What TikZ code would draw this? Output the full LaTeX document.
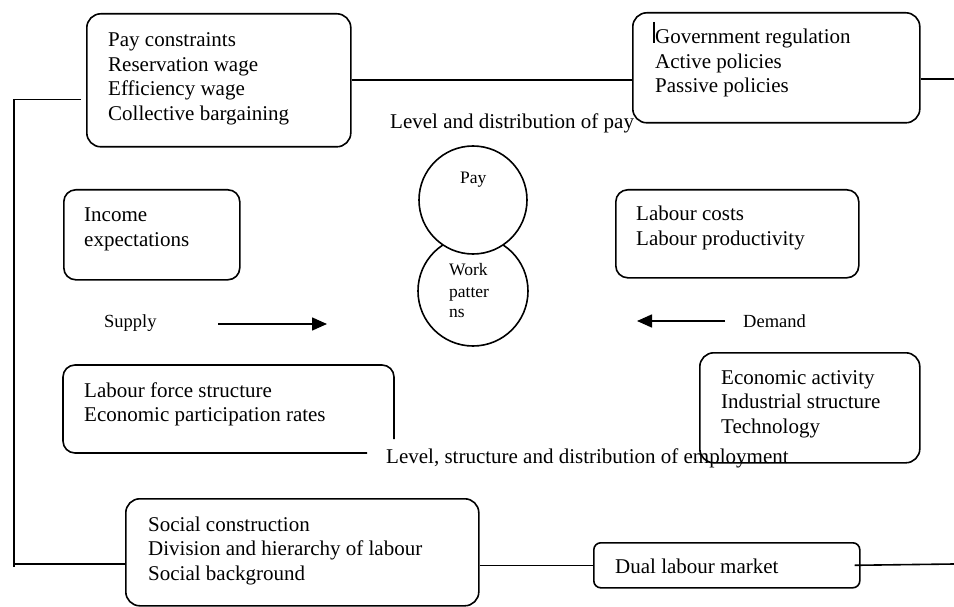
\documentclass[tikz,border=0pt]{standalone}
\usepackage{fontspec}
\setmainfont{Liberation Serif}
\usetikzlibrary{arrows.meta}
\newcommand\mainsz{\fontsize{21}{24.5}\selectfont}
\newcommand\smallsz{\fontsize{18.5}{21}\selectfont}
\newcommand\circsz{\fontsize{17.5}{21}\selectfont}
\newcommand\mylines[1]{\begin{tabular}[t]{@{}l@{}}#1\end{tabular}}
\begin{document}
\begin{tikzpicture}[x=1pt,y=-1pt,
  lw/.style={line width=1.6pt},
  boxnode/.style={draw,lw,rounded corners=14pt,inner sep=0pt,anchor=north west},
  txt/.style={anchor=base west,inner sep=0pt,font=\mainsz},
  smalltxt/.style={anchor=base west,inner sep=0pt,font=\smallsz},
  circtxt/.style={anchor=base west,inner sep=0pt,font=\circsz},
  conn/.style={lw},
  arr/.style={lw,-{Triangle[length=15pt,width=13pt]}},
  ring/.style={draw,lw,circle,inner sep=0pt}]
\useasboundingbox (0,0) rectangle (954,607);

% boxes
\node[boxnode,minimum width=264pt,minimum height=133pt] (A) at (86,13) {};
\node[txt] (At) at (108,47) {\mylines{Pay constraints\\Reservation wage\\Efficiency wage\\Collective bargaining}};

\node[boxnode,minimum width=287pt,minimum height=110pt] (B) at (632,12) {};
\node[txt] (Bt) at (655,44) {\mylines{Government regulation\\Active policies\\Passive policies}};
\draw[line width=1.2pt] (654,22) -- (654,43);

\node[boxnode,rounded corners=12pt,minimum width=176pt,minimum height=90pt] (G) at (63,189) {};
\node[txt] (Gt) at (84,222) {\mylines{Income\\expectations}};

\node[boxnode,rounded corners=12pt,minimum width=243pt,minimum height=88pt] (F) at (615,189) {};
\node[txt] (Ft) at (636,221) {\mylines{Labour costs\\Labour productivity}};

% labour force box (open corner)
\draw[lw,rounded corners=12pt] (367,453) -- (63,453) -- (63,365) -- (394,365) -- (394,439);
\node[txt] (Dt) at (84,397) {\mylines{Labour force structure\\Economic participation rates}};

\node[boxnode,minimum width=220pt,minimum height=110pt] (E) at (699,352) {};
\node[txt] (Et) at (721,384) {\mylines{Economic activity\\Industrial structure\\Technology}};

\node[boxnode,minimum width=353pt,minimum height=107pt] (C) at (125,498) {};
\node[txt] (Ct) at (148,531) {\mylines{Social construction\\Division and hierarchy of labour\\Social background}};

\node[boxnode,rounded corners=7pt,minimum width=266pt,minimum height=45pt] (Du) at (593,542) {};
\node[txt] (Dut) at (615,573) {Dual labour market};

% circles
\node[ring,minimum size=110pt] (W) at (473,291) {};
\node[ring,fill=white,minimum size=108pt] (P) at (473,200) {};
\node[circtxt] (Pt) at (460,184) {Pay};
\node[circtxt] (Wt) at (449,276) {\begin{tabular}[t]{@{}l@{}}Work\\patter\\ns\end{tabular}};

% labels
\node[txt] (L1) at (390,129) {Level and distribution of pay};
\node[txt] (L2) at (386,463) {Level, structure and distribution of employment};
\node[smalltxt] (S) at (104,327) {Supply};
\node[smalltxt] (Dm) at (743,327) {Demand};

% arrows
\coordinate (s1) at (218,324);
\coordinate (s2) at (327,324);
\coordinate (d1) at (725,321);
\coordinate (d2) at (637,321);
\draw[arr] (s1) -- (s2);
\draw[arr] (d1) -- (d2);

% connectors
\coordinate (r1) at (954,79);
\coordinate (r2) at (954,564);
\coordinate (aL) at (81,99.5);
\coordinate (tl) at (14,99.5);
\coordinate (bl) at (14,567);
\coordinate (bh) at (14,564);
\draw[conn] (A.east) -- (A.east -| B.west);
\draw[conn] (B.east |- r1) -- (r1);
\draw[conn] (aL) -- (tl) -- (bl);
\draw[conn] (bh) -- (bh -| C.west);
\draw[conn] (C.east |- Du.west) -- (Du.west);
\draw[conn] ([xshift=-6pt]Du.east) -- (r2);
\end{tikzpicture}
\end{document}
